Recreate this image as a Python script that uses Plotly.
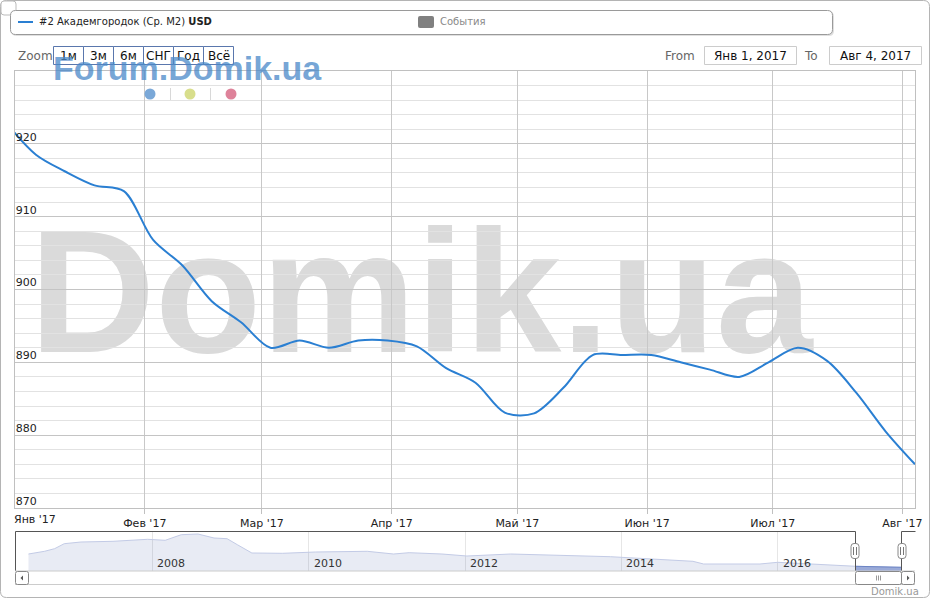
import plotly.graph_objects as go

W, H = 931, 600

# ---------------- data ----------------
dates = ["2016-12-30", "2017-01-06", "2017-01-13", "2017-01-20", "2017-01-27",
         "2017-02-03", "2017-02-10", "2017-02-17", "2017-02-24", "2017-03-03",
         "2017-03-10", "2017-03-17", "2017-03-24", "2017-03-31", "2017-04-07",
         "2017-04-14", "2017-04-21", "2017-04-28", "2017-05-05", "2017-05-12",
         "2017-05-19", "2017-05-26", "2017-06-02", "2017-06-09", "2017-06-16",
         "2017-06-23", "2017-06-30", "2017-07-07", "2017-07-14", "2017-07-21",
         "2017-07-28", "2017-08-04"]
prices = [922.8, 918.5, 916.2, 914.3, 913.5,
          906.8, 903.3, 898.4, 895.5, 892.0,
          893.0, 892.0, 893.0, 893.0, 892.2,
          889.2, 887.2, 883.1, 883.0, 886.5,
          891.0, 891.0, 891.0, 890.0, 889.0,
          888.0, 890.0, 892.0, 890.2, 885.8,
          880.5, 876.0]

month_ticks = ["2017-01-01", "2017-02-01", "2017-03-01", "2017-04-01",
               "2017-05-01", "2017-06-01", "2017-07-01", "2017-08-01"]
month_labels = ["Янв '17", "Фев '17", "Мар '17", "Апр '17",
                "Май '17", "Июн '17", "Июл '17", "Авг '17"]
y_ticks = [870, 880, 890, 900, 910, 920]

nav_dates = ["2006-06-01", "2006-08-15", "2006-10-01", "2006-11-15", "2007-02-01",
             "2007-07-01", "2007-12-10", "2008-03-01", "2008-05-15", "2008-08-01",
             "2008-10-15", "2008-12-15", "2009-02-01", "2009-04-10", "2009-09-01",
             "2010-02-01", "2010-10-01", "2011-02-01", "2011-04-15", "2011-09-15",
             "2012-01-10", "2012-08-01", "2013-11-10", "2014-07-01", "2014-12-01",
             "2015-01-20", "2015-10-10", "2016-01-01", "2016-06-01", "2017-01-01",
             "2017-08-04"]
nav_values = [1550, 1685, 1815, 2065, 2150,
              2185, 2285, 2235, 2515, 2550,
              2350, 2315, 2015, 1600, 1585,
              1650, 1685, 1550, 1615, 1550,
              1450, 1550, 1415, 1265, 1185,
              1050, 1050, 1135, 1050, 935,
              885]
nav_years = [2008, 2010, 2012, 2014, 2016]

zoom_labels = ["1м", "3м", "6м", "СНГ", "Год", "Всё"]
series_name = "#2 Академгородок (Ср. М2) <b>USD</b>"
events_name = "События"
date_from = "Янв 1, 2017"
date_to = "Авг 4, 2017"

FONT = "DejaVu Sans"


def px(x):
    return x / W


def py(y):
    return 1 - y / H


def rrect(x0, y0, x1, y1, r):
    X0, X1, Y0, Y1 = px(x0), px(x1), py(y0), py(y1)
    rx, ry = r / W, r / H
    return (f"M {X0+rx},{Y0} L {X1-rx},{Y0} Q {X1},{Y0} {X1},{Y0-ry} "
            f"L {X1},{Y1+ry} Q {X1},{Y1} {X1-rx},{Y1} L {X0+rx},{Y1} "
            f"Q {X0},{Y1} {X0},{Y1+ry} L {X0},{Y0-ry} Q {X0},{Y0} {X0+rx},{Y0} Z")


fig = go.Figure()

# navigator area
fig.add_trace(go.Scatter(x=nav_dates, y=nav_values, xaxis="x2", yaxis="y2",
                         mode="lines", line=dict(color="#c3cbe6", width=1),
                         fill="tozeroy", fillcolor="rgba(80,100,170,0.13)",
                         hoverinfo="skip", showlegend=False))
sel_x = [d for d in nav_dates if d >= "2017-01-01"]
sel_y = [v for d, v in zip(nav_dates, nav_values) if d >= "2017-01-01"]
fig.add_trace(go.Scatter(x=sel_x, y=sel_y, xaxis="x2", yaxis="y2",
                         mode="lines", line=dict(color="#6c84c4", width=1),
                         fill="tozeroy", fillcolor="#9aaad8",
                         hoverinfo="skip", showlegend=False))

# main line
fig.add_trace(go.Scatter(x=dates, y=prices, mode="lines",
                         line=dict(color="#2a7fd2", width=2, shape="spline", smoothing=0.9),
                         showlegend=False))

shapes = []
ann = []

# outer border and small corner box
shapes.append(dict(type="path", path=rrect(0.5, 0.5, 929.5, 597.5, 6), xref="paper", yref="paper",
                   line=dict(color="#b4b4b4", width=1)))
shapes.append(dict(type="path", path=rrect(1, 1, 16, 15, 3), xref="paper", yref="paper",
                   line=dict(color="#bbbbbb", width=1), fillcolor="white"))

# legend box with shadow
shapes.append(dict(type="path", path=rrect(11.5, 11.5, 834, 36, 5), xref="paper", yref="paper",
                   line=dict(width=0), fillcolor="rgba(0,0,0,0.12)"))
shapes.append(dict(type="path", path=rrect(10.5, 10.5, 832.5, 34.5, 5), xref="paper", yref="paper",
                   line=dict(color="#9a9a9a", width=1), fillcolor="white"))
shapes.append(dict(type="line", x0=px(18), x1=px(33), y0=py(22), y1=py(22), xref="paper", yref="paper",
                   line=dict(color="#2a7fd2", width=2)))
ann.append(dict(text=series_name, x=px(37), y=py(22), xref="paper", yref="paper",
                xanchor="left", yanchor="middle", showarrow=False,
                font=dict(family=FONT, size=10, color="#222")))
shapes.append(dict(type="path", path=rrect(418, 16, 434, 28, 2), xref="paper", yref="paper",
                   line=dict(width=0), fillcolor="#808080"))
ann.append(dict(text=events_name, x=px(438), y=py(22), xref="paper", yref="paper",
                xanchor="left", yanchor="middle", showarrow=False,
                font=dict(family=FONT, size=10, color="#8a8a8a")))

# zoom buttons
ann.append(dict(text="Zoom", x=px(16), y=py(56), xref="paper", yref="paper",
                xanchor="left", yanchor="middle", showarrow=False,
                font=dict(family=FONT, size=12, color="#666")))
bx = [53.5, 83.5, 113.5, 143.5, 173.5, 203.5, 233.5]
for i, lab in enumerate(zoom_labels):
    shapes.append(dict(type="rect", x0=px(bx[i]), x1=px(bx[i + 1]), y0=py(46.5), y1=py(64.5),
                       xref="paper", yref="paper", line=dict(color="#5a77ad", width=1),
                       fillcolor="white"))
    ann.append(dict(text=lab, x=px((bx[i] + bx[i + 1]) / 2), y=py(56), xref="paper", yref="paper",
                    xanchor="center", yanchor="middle", showarrow=False, borderpad=0,
                    font=dict(family=FONT, size=12, color="#111")))

# from / to
ann.append(dict(text="From", x=px(697), y=py(56), xref="paper", yref="paper",
                xanchor="right", yanchor="middle", showarrow=False,
                font=dict(family=FONT, size=12, color="#666")))
shapes.append(dict(type="rect", x0=px(704.5), x1=px(796.5), y0=py(46.5), y1=py(64.5),
                   xref="paper", yref="paper", line=dict(color="#cccccc", width=1)))
ann.append(dict(text=date_from, x=px(750.5), y=py(56), xref="paper", yref="paper",
                xanchor="center", yanchor="middle", showarrow=False,
                font=dict(family=FONT, size=12, color="#111")))
ann.append(dict(text="To", x=px(820), y=py(56), xref="paper", yref="paper",
                xanchor="right", yanchor="middle", showarrow=False,
                font=dict(family=FONT, size=12, color="#666")))
shapes.append(dict(type="rect", x0=px(829.5), x1=px(921.5), y0=py(46.5), y1=py(64.5),
                   xref="paper", yref="paper", line=dict(color="#cccccc", width=1)))
ann.append(dict(text=date_to, x=px(875.5), y=py(56), xref="paper", yref="paper",
                xanchor="center", yanchor="middle", showarrow=False,
                font=dict(family=FONT, size=12, color="#111")))

# Forum.Domik.ua watermark
ann.append(dict(text="<b>Forum.Domik.ua</b>", x=px(187), y=py(68), xref="paper", yref="paper",
                xanchor="center", yanchor="middle", showarrow=False,
                font=dict(family="Liberation Sans", size=34, color="rgba(74,137,201,0.75)")))

# three dots with separators
for cx, col in [(150, "#7aa8d8"), (190, "#d8de8c"), (231, "#de829a")]:
    shapes.append(dict(type="circle", x0=px(cx - 5.5), x1=px(cx + 5.5), y0=py(88.5), y1=py(99.5),
                       xref="paper", yref="paper", line=dict(width=0), fillcolor=col))
for sx in [170.5, 210.5]:
    shapes.append(dict(type="line", x0=px(sx), x1=px(sx), y0=py(88), y1=py(100),
                       xref="paper", yref="paper", line=dict(color="#d8d8d8", width=1)))

# big Domik.ua watermark (below grid)
shapes.append(dict(type="rect", x0=px(30), x1=px(812), y0=py(188), y1=py(363),
                   xref="paper", yref="paper", layer="below", line=dict(width=0),
                   label=dict(text="Domik.ua", textposition="middle center",
                              font=dict(family="Liberation Sans", size=174, color="#dadada",
                                        weight="bold"))))

# navigator outline
nav_dark = "#555555"
shapes.append(dict(type="line", x0=px(15.5), x1=px(855.5), y0=py(531.5), y1=py(531.5),
                   xref="paper", yref="paper", line=dict(color=nav_dark, width=1)))
shapes.append(dict(type="line", x0=px(901.5), x1=px(915.5), y0=py(531.5), y1=py(531.5),
                   xref="paper", yref="paper", line=dict(color=nav_dark, width=1)))
shapes.append(dict(type="line", x0=px(15.5), x1=px(15.5), y0=py(531.5), y1=py(571),
                   xref="paper", yref="paper", line=dict(color=nav_dark, width=1)))
for hx in [855.5, 901.5]:
    shapes.append(dict(type="line", x0=px(hx), x1=px(hx), y0=py(531.5), y1=py(571),
                       xref="paper", yref="paper", line=dict(color=nav_dark, width=1)))
shapes.append(dict(type="line", x0=px(15), x1=px(915), y0=py(571), y1=py(571),
                   xref="paper", yref="paper", line=dict(color="#cccccc", width=1)))
# scrollbar
shapes.append(dict(type="line", x0=px(15), x1=px(915), y0=py(584.5), y1=py(584.5),
                   xref="paper", yref="paper", line=dict(color="#cccccc", width=1)))
shapes.append(dict(type="path", path=rrect(15.5, 571.5, 28.5, 584.5, 2), xref="paper", yref="paper",
                   line=dict(color="#888", width=1), fillcolor="white"))
shapes.append(dict(type="path", path=rrect(901.5, 571.5, 914.5, 584.5, 2), xref="paper", yref="paper",
                   line=dict(color="#888", width=1), fillcolor="white"))
shapes.append(dict(type="path", path=rrect(855.5, 571.5, 901.5, 584.5, 2), xref="paper", yref="paper",
                   line=dict(color="#888", width=1), fillcolor="white"))
shapes.append(dict(type="path", xref="paper", yref="paper",
                   path=f"M {px(23)},{py(575.5)} L {px(23)},{py(580.5)} L {px(20.5)},{py(578)} Z",
                   line=dict(width=0), fillcolor="#555"))
shapes.append(dict(type="path", xref="paper", yref="paper",
                   path=f"M {px(907)},{py(575.5)} L {px(907)},{py(580.5)} L {px(909.5)},{py(578)} Z",
                   line=dict(width=0), fillcolor="#555"))
for gx in [876.5, 878.5, 880.5]:
    shapes.append(dict(type="line", x0=px(gx), x1=px(gx), y0=py(575.5), y1=py(580.5),
                       xref="paper", yref="paper", line=dict(color="#999", width=1)))
# handles
for hx in [855, 902]:
    shapes.append(dict(type="path", path=rrect(hx - 4, 543.5, hx + 4, 558.5, 3), xref="paper",
                       yref="paper", line=dict(color="#888", width=1), fillcolor="white"))
    for lx in [hx - 1.5, hx + 1.5]:
        shapes.append(dict(type="line", x0=px(lx), x1=px(lx), y0=py(547), y1=py(555),
                           xref="paper", yref="paper", line=dict(color="#777", width=1)))

for yr in nav_years:
    ann.append(dict(text=str(yr), x=f"{yr}-01-01", xref="x2", y=py(563), yref="paper",
                    xanchor="left", yanchor="middle", xshift=3, showarrow=False,
                    font=dict(family=FONT, size=11, color="#333")))

# first month label (shifted right, like the original)
ann.append(dict(text=month_labels[0], x=month_ticks[0], xref="x", y=py(519), yref="paper",
                xanchor="left", yanchor="middle", xshift=-3, showarrow=False,
                font=dict(family=FONT, size=11, color="#222")))
tick_text = [""] + month_labels[1:]

ann.append(dict(text="Domik.ua", x=px(921), y=py(591), xref="paper", yref="paper",
                xanchor="right", yanchor="middle", showarrow=False,
                font=dict(family=FONT, size=10, color="#999")))

fig.update_layout(
    width=W, height=H, autosize=False, margin=dict(l=0, r=0, t=0, b=0, pad=0),
    paper_bgcolor="white", plot_bgcolor="rgba(0,0,0,0)",
    showlegend=False, shapes=shapes, annotations=ann,
    font=dict(family=FONT),
    xaxis=dict(domain=[px(15), px(915)], range=["2017-01-01", "2017-08-04"],
               automargin=False,
               tickvals=month_ticks, ticktext=tick_text,
               ticks="outside", ticklen=5, tickcolor="#c0c0c0",
               showgrid=True, gridcolor="#c8c8c8", gridwidth=1,
               showline=True, mirror=True, linecolor="#c0c0c0", linewidth=1,
               tickfont=dict(family=FONT, size=11, color="#222"), zeroline=False),
    yaxis=dict(domain=[py(508), py(71)], range=[870, 930],
               automargin=False,
               tickvals=y_ticks, ticks="",
               ticklabelposition="inside", ticklabelshift=-7,
               showgrid=True, gridcolor="#c4c4c4", gridwidth=1,
               minor=dict(tickmode="linear", tick0=870, dtick=2, showgrid=True,
                          gridcolor="#e2e2e2", ticks=""),
               showline=True, mirror=True, linecolor="#c0c0c0", linewidth=1,
               tickfont=dict(family=FONT, size=11, color="#222"), zeroline=False),
    xaxis2=dict(domain=[px(15), px(902)], range=["2006-03-30", "2017-08-04"],
                automargin=False,
                anchor="y2", tickvals=[f"{y}-01-01" for y in nav_years],
                showticklabels=False, ticks="", showgrid=True, gridcolor="#e6e6e6",
                showline=False, zeroline=False),
    yaxis2=dict(domain=[py(571), py(531)], range=[700, 2700], anchor="x2",
                automargin=False,
                showticklabels=False, showgrid=False, zeroline=False, ticks=""),
)

fig.write_html("out.html",
               config={"responsive": False, "displayModeBar": False},
               post_script="document.body.style.margin='0';document.body.style.padding='0';"
                           "document.documentElement.style.overflow='hidden';")
